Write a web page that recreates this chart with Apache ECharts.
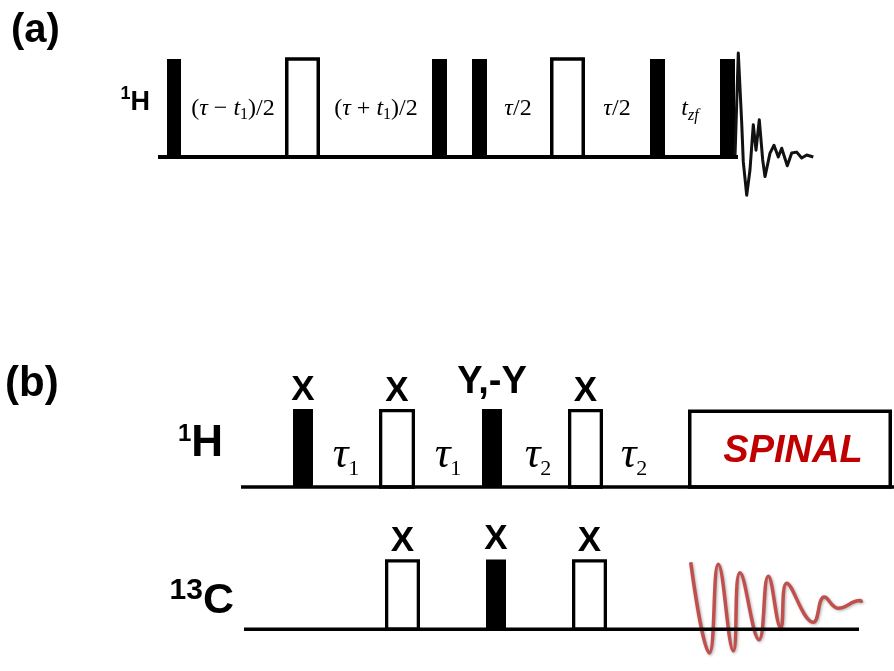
<!DOCTYPE html>
<html><head><meta charset="utf-8">
<script src="https://cdn.jsdelivr.net/npm/echarts@6/dist/echarts.min.js"></script>
<style>html,body{margin:0;padding:0;background:#fff}#c{width:894px;height:671px}</style>
</head><body><div id="c"></div>
<script>
// ================= DATA =================
// Time axis in arbitrary units; amplitude relative to a nominal pulse height of 1.

// ---- Panel (a): 1H channel ----
const aPulseOn   = [167, 285, 432, 472, 550, 650, 720];
const aPulseOff  = [181, 320, 447, 487, 585, 665, 735];
const aPulseAmp  = [1.0, 1.0, 1.0, 1.0, 1.0, 1.0, 1.0];
const aPulseKind = ['filled', 'open', 'filled', 'filled', 'open', 'filled', 'filled'];
const aLineSpan  = [158, 738];
const aDelayAt   = [233, 376, 518, 617, 690];
const aDelayText = [
  '{p|(}{i|τ}{p| − }{i|t}{s|1}{p|)/2}',
  '{p|(}{i|τ}{p| + }{i|t}{s|1}{p|)/2}',
  '{i|τ}{p|/2}',
  '{i|τ}{p|/2}',
  '{i|t}{si|zf}'
];
const aFidTime = [735, 738.3, 741.7, 743.3, 746.7, 750, 753.3, 756, 759.3, 762.7, 765, 770, 774, 778.3, 781.7, 787.3, 791.7, 796.7, 801.7, 806.7, 813.3];
const aFidAmp  = [0, 1.06, 0.35, -0.05, -0.39, -0.13, 0.33, 0.07, 0.38, -0.03, -0.20, 0.04, 0.12, 0.00, 0.09, -0.09, 0.04, 0.05, -0.01, 0.02, 0.00];

// ---- Panel (b): 1H channel ----
const bHPulseOn   = [293, 379, 482, 568];
const bHPulseOff  = [313, 415, 502, 603];
const bHPulseAmp  = [1.0, 0.98, 1.0, 0.98];
const bHPulseKind = ['filled', 'open', 'filled', 'open'];
const bHPhase     = ['X', 'X', 'Y,-Y', 'X'];
const bHDelayAt   = [346, 448, 538, 634];
const bHDelaySub  = ['1', '1', '2', '2'];
const bHLineSpan  = [241, 894];
const bDecOn   = [688];
const bDecOff  = [892];
const bDecAmp  = [0.97];
const bDecName = ['SPINAL'];

// ---- Panel (b): 13C channel ----
const bCPulseOn   = [385, 486, 572];
const bCPulseOff  = [420, 506, 607];
const bCPulseAmp  = [0.98, 1.0, 0.98];
const bCPulseKind = ['open', 'filled', 'open'];
const bCPhase     = ['X', 'X', 'X'];
const bCLineSpan  = [244, 859];
const bCFidTime = [690.7, 709.3, 718.3, 733.3, 740, 759, 768.3, 780.7, 786.7, 813.3, 824.3, 838.3, 860, 861.7];
const bCFidAmp  = [0.96, -0.34, 0.93, -0.31, 0.81, -0.15, 0.76, 0.02, 0.66, 0.10, 0.46, 0.30, 0.41, 0.38];

// ================= LAYOUT / STYLE =================
const W = 894;
const SANS = '"Liberation Sans", Arial, sans-serif';
const SERIF = '"Liberation Serif", "Times New Roman", serif';
const YR = [-0.6, 1.4];
const CH = [ {base: 157, unit: 98}, {base: 487, unit: 78}, {base: 641.5, unit: 78.5} ];
const grids = CH.map(c => ({left: 0, right: 0, top: c.base - YR[1] * c.unit, height: (YR[1] - YR[0]) * c.unit}));

function baseline(gi, span, lw) {
  return {type: 'line', xAxisIndex: gi, yAxisIndex: gi, z: 5, clip: false, symbol: 'none', silent: true,
    data: span.map(t => [t, 0]), lineStyle: {color: '#000', width: lw}};
}
function pulses(gi, on, off, amp, kind, lw) {
  return {type: 'custom', xAxisIndex: gi, yAxisIndex: gi, z: 3, clip: false, silent: true,
    data: on.map((t, i) => [t, off[i], amp[i]]),
    renderItem: (params, api) => {
      const i = params.dataIndex;
      const p0 = api.coord([api.value(0), 0]);
      const p1 = api.coord([api.value(1), api.value(2)]);
      const x = p0[0], w = p1[0] - p0[0], y = p1[1], h = p0[1] - p1[1];
      if (kind[i] === 'filled') return {type: 'rect', shape: {x, y, width: w, height: h}, style: {fill: '#000'}};
      return {type: 'rect', shape: {x: x + lw / 2, y, width: w - lw, height: h}, style: {fill: '#fff', stroke: '#000', lineWidth: lw}};
    }};
}
function phaseLabels(gi, on, off, amp, labels, rise) {
  return {type: 'custom', xAxisIndex: gi, yAxisIndex: gi, z: 4, clip: false, silent: true,
    data: on.map((t, i) => [(t + off[i]) / 2, amp[i]]),
    renderItem: (params, api) => {
      const c = api.coord([api.value(0), api.value(1)]);
      const txt = labels[params.dataIndex];
      const styleName = txt.length > 1 ? 'w' : 'n';
      return {type: 'text', x: c[0], y: c[1] - rise, style: {
        text: '{' + styleName + '|' + txt + '}', textAlign: 'center', textVerticalAlign: 'middle', fill: '#000',
        rich: {n: {font: 'bold 35px ' + SANS, fill: '#000'}, w: {font: 'bold 38px ' + SANS, fill: '#000', padding: [0, 0, 14, 0]}}
      }};
    }};
}
function textSeries(gi, at, level, texts, rich) {
  return {type: 'custom', xAxisIndex: gi, yAxisIndex: gi, z: 4, clip: false, silent: true,
    data: at.map(t => [t, level]),
    renderItem: (params, api) => {
      const c = api.coord([api.value(0), api.value(1)]);
      return {type: 'text', x: c[0], y: c[1], style: {
        text: texts[params.dataIndex], textAlign: 'center', textVerticalAlign: 'middle', fill: '#000', rich
      }};
    }};
}

const aRich = {
  p: {font: '24px ' + SERIF, fill: '#000'},
  i: {font: 'italic 24px ' + SERIF, fill: '#000'},
  s: {font: '16px ' + SERIF, fill: '#000', padding: [12, 0, 0, 0]},
  si: {font: 'italic 16px ' + SERIF, fill: '#000', padding: [14, 0, 0, 0]}
};
const bRich = {
  t: {font: 'italic 44px ' + SERIF, fill: '#000'},
  n: {font: '22px ' + SERIF, fill: '#000', padding: [29, 0, 0, 0]}
};

const chart = echarts.init(document.getElementById('c'), null, {renderer: 'canvas'});
chart.setOption({
  animation: false,
  backgroundColor: '#fff',
  grid: grids,
  xAxis: grids.map((g, i) => ({type: 'value', gridIndex: i, min: 0, max: W, show: false})),
  yAxis: grids.map((g, i) => ({type: 'value', gridIndex: i, min: YR[0], max: YR[1], show: false})),
  graphic: [
    {type: 'text', x: 11, y: 31, style: {text: '(a)', font: 'bold 40px ' + SANS, fill: '#000', textVerticalAlign: 'middle'}},
    {type: 'text', x: 5, y: 384, style: {text: '(b)', font: 'bold 42px ' + SANS, fill: '#000', textVerticalAlign: 'middle'}},
    {type: 'text', x: 150, y: 103, style: {text: '{s|1}{m|H}', textAlign: 'right', textVerticalAlign: 'middle', fill: '#000',
      rich: {s: {font: 'bold 18px ' + SANS, fill: '#000', padding: [0, 0, 18, 0]}, m: {font: 'bold 27px ' + SANS, fill: '#000'}}}},
    {type: 'text', x: 223, y: 444, style: {text: '{s|1}{m|H}', textAlign: 'right', textVerticalAlign: 'middle', fill: '#000',
      rich: {s: {font: 'bold 24px ' + SANS, fill: '#000', padding: [0, 0, 20, 0]}, m: {font: 'bold 44px ' + SANS, fill: '#000'}}}},
    {type: 'text', x: 234, y: 601, style: {text: '{s|13}{m|C}', textAlign: 'right', textVerticalAlign: 'middle', fill: '#000',
      rich: {s: {font: 'bold 30px ' + SANS, fill: '#000', padding: [0, 0, 20, 0]}, m: {font: 'bold 43px ' + SANS, fill: '#000'}}}}
  ],
  series: [
    // panel (a)
    baseline(0, aLineSpan, 4),
    pulses(0, aPulseOn, aPulseOff, aPulseAmp, aPulseKind, 3.5),
    textSeries(0, aDelayAt, 0.49, aDelayText, aRich),
    {type: 'line', xAxisIndex: 0, yAxisIndex: 0, z: 4, clip: false, symbol: 'none', silent: true,
      data: aFidTime.map((t, i) => [t, aFidAmp[i]]),
      lineStyle: {color: '#111', width: 3, join: 'round'}},
    // panel (b) 1H
    {type: 'custom', xAxisIndex: 1, yAxisIndex: 1, z: 3, clip: false, silent: true,
      data: bDecOn.map((t, i) => [t, bDecOff[i], bDecAmp[i]]),
      renderItem: (params, api) => {
        const i = params.dataIndex;
        const p0 = api.coord([api.value(0), 0]);
        const p1 = api.coord([api.value(1), api.value(2)]);
        return {type: 'group', children: [
          {type: 'rect', shape: {x: p0[0] + 1.75, y: p1[1], width: p1[0] - p0[0] - 3.5, height: p0[1] - p1[1]},
            style: {fill: '#fff', stroke: '#000', lineWidth: 3.5}},
          {type: 'text', x: (p0[0] + p1[0]) / 2 + 3, y: (p0[1] + p1[1]) / 2 + 2,
            style: {text: bDecName[i], font: 'italic bold 38px ' + SANS, fill: '#c00000', textAlign: 'center', textVerticalAlign: 'middle'}}
        ]};
      }},
    baseline(1, bHLineSpan, 3.5),
    pulses(1, bHPulseOn, bHPulseOff, bHPulseAmp, bHPulseKind, 3.3),
    phaseLabels(1, bHPulseOn, bHPulseOff, bHPulseAmp, bHPhase, 19),
    textSeries(1, bHDelayAt, 0.41, bHDelaySub.map(s => '{t|τ}{n|' + s + '}'), bRich),
    // panel (b) 13C
    {type: 'line', xAxisIndex: 2, yAxisIndex: 2, z: 4, clip: false, symbol: 'none', silent: true, smooth: 0.45,
      data: bCFidTime.map((t, i) => [t, bCFidAmp[i]]),
      lineStyle: {color: '#c0504d', width: 3.5, shadowBlur: 3, shadowColor: 'rgba(0,0,0,0.3)', shadowOffsetX: 1, shadowOffsetY: 1}},
    baseline(2, bCLineSpan, 3.5),
    pulses(2, bCPulseOn, bCPulseOff, bCPulseAmp, bCPulseKind, 3.3),
    phaseLabels(2, bCPulseOn, bCPulseOff, bCPulseAmp, bCPhase, 20)
  ]
});
</script>
</body></html>
